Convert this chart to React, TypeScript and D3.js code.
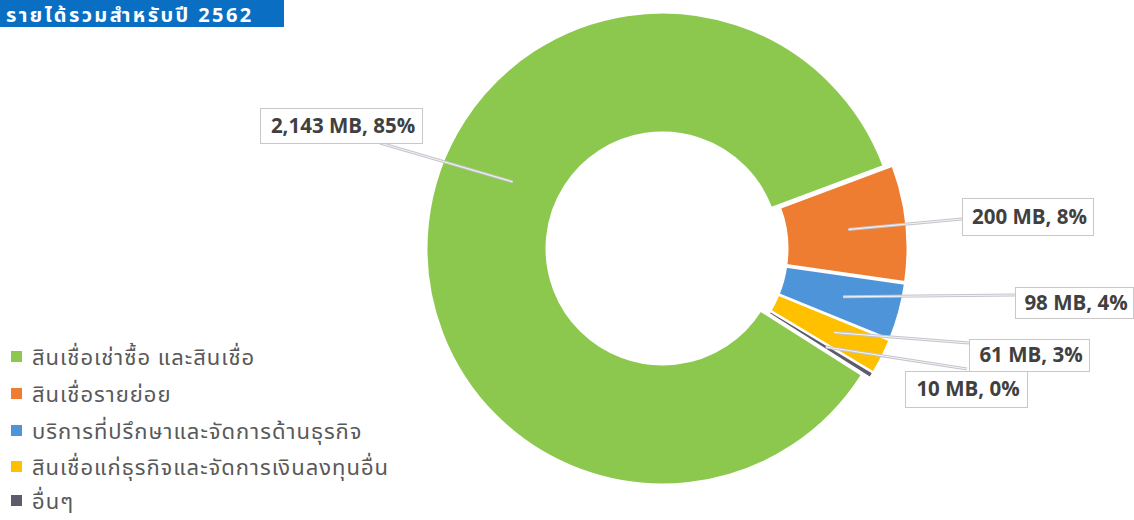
import React from 'react';
import * as d3 from 'd3';

const title = 'รายได้รวมสำหรับปี 2562';
const categories = [
  'สินเชื่อเช่าซื้อ และสินเชื่อ',
  'สินเชื่อรายย่อย',
  'บริการที่ปรึกษาและจัดการด้านธุรกิจ',
  'สินเชื่อแก่ธุรกิจและจัดการเงินลงทุนอื่น',
  'อื่นๆ',
];
const valuesMB = [2143, 200, 98, 61, 10];
const percentLabels = [85, 8, 4, 3, 0];
const colors = ['#8cc84e', '#ee7d31', '#4e94d8', '#ffc000', '#5c5c6c'];

// layout
const W = 1134;
const H = 520;
const cx = 667;
const cy = 249;
const rOuter = 236;
const rInner = 116;
const explode = 4.5;
const firstSliceDeg = 122.4;

const labelBoxes = [
  { x: 260, y: 108, w: 162, h: 35, ex: 380, ey: 143, anchorDeg: 294, anchorR: 164 },
  { x: 962, y: 198, w: 131, h: 37, ex: 962, ey: 219, anchorDeg: null, anchorR: 178 },
  { x: 1015, y: 287, w: 118, h: 31, ex: 1015, ey: 295, anchorDeg: null, anchorR: 178 },
  { x: 969, y: 339, w: 120, h: 32, ex: 969, ey: 343, anchorDeg: null, anchorR: 182 },
  { x: 905, y: 371, w: 122, h: 36, ex: 967, ey: 369, anchorDeg: null, anchorR: 182 },
];

const legendRows = [357, 394, 431, 467, 501];

const fmt = d3.format(',');

export default function App() {
  const start = (firstSliceDeg * Math.PI) / 180;
  const pie = d3
    .pie<number>()
    .sort(null)
    .value((d) => d)
    .startAngle(start)
    .endAngle(start + 2 * Math.PI);
  const arcs = pie(valuesMB);
  const arc = d3.arc<d3.PieArcDatum<number>>().innerRadius(rInner).outerRadius(rOuter);

  const slices = arcs.map((a, i) => {
    const mid = (a.startAngle + a.endAngle) / 2;
    const ox = cx + explode * Math.sin(mid);
    const oy = cy - explode * Math.cos(mid);
    const lb = labelBoxes[i];
    const ang = lb.anchorDeg != null ? (lb.anchorDeg * Math.PI) / 180 : mid;
    const ax = ox + lb.anchorR * Math.sin(ang);
    const ay = oy - lb.anchorR * Math.cos(ang);
    return { a, i, ox, oy, ax, ay, lb };
  });

  return (
    <svg
      width={W}
      height={H}
      style={{ position: 'absolute', left: 0, top: 0, background: '#fff' }}
    >
      {/* title */}
      <rect x={0} y={-6} width={284} height={33} fill="#0a6fc2" />
      <text
        x={6}
        y={22}
        fill="#ffffff"
        fontSize={20}
        fontWeight={700}
        letterSpacing={2.4}
        fontFamily="'Noto Sans Thai', Tahoma, 'Noto Sans', sans-serif"
      >
        {title}
      </text>

      {/* slices */}
      {slices.map(({ a, i, ox, oy }) => (
        <path
          key={'s' + i}
          d={arc(a) || ''}
          transform={`translate(${ox},${oy})`}
          fill={colors[i]}
          stroke="#ffffff"
          strokeWidth={2}
          strokeLinejoin="round"
        />
      ))}

      {/* leader lines */}
      {slices.map(({ i, ax, ay, lb }) => (
        <g key={'l' + i}>
          <line x1={ax} y1={ay} x2={lb.ex} y2={lb.ey} stroke="#c4c4cc" strokeWidth={3} />
          <line x1={ax} y1={ay} x2={lb.ex} y2={lb.ey} stroke="#f4f4f4" strokeWidth={1} />
        </g>
      ))}

      {/* data labels */}
      {slices.map(({ i, lb }) => (
        <g key={'b' + i}>
          <rect
            x={lb.x + 0.5}
            y={lb.y + 0.5}
            width={lb.w}
            height={lb.h}
            fill="#ffffff"
            stroke="#c8c8c8"
            strokeWidth={1}
          />
          <text
            x={lb.x + lb.w / 2 + 2}
            y={lb.y + lb.h / 2}
            dy="0.35em"
            textAnchor="middle"
            fill="#404040"
            fontSize={20.5}
            fontWeight={700}
            fontFamily="'Open Sans', sans-serif"
          >
            {`${fmt(valuesMB[i])} MB, ${percentLabels[i]}%`}
          </text>
        </g>
      ))}

      {/* legend */}
      {categories.map((c, i) => (
        <g key={'g' + i} transform={`translate(0,${legendRows[i]})`}>
          <rect x={11} y={-6} width={11} height={11} fill={colors[i]} />
          <text
            x={32}
            y={0}
            dy="0.35em"
            fill="#595959"
            fontSize={22}
            letterSpacing={1}
            fontFamily="'Noto Sans Thai', Tahoma, 'Noto Sans', sans-serif"
          >
            {c}
          </text>
        </g>
      ))}
    </svg>
  );
}
